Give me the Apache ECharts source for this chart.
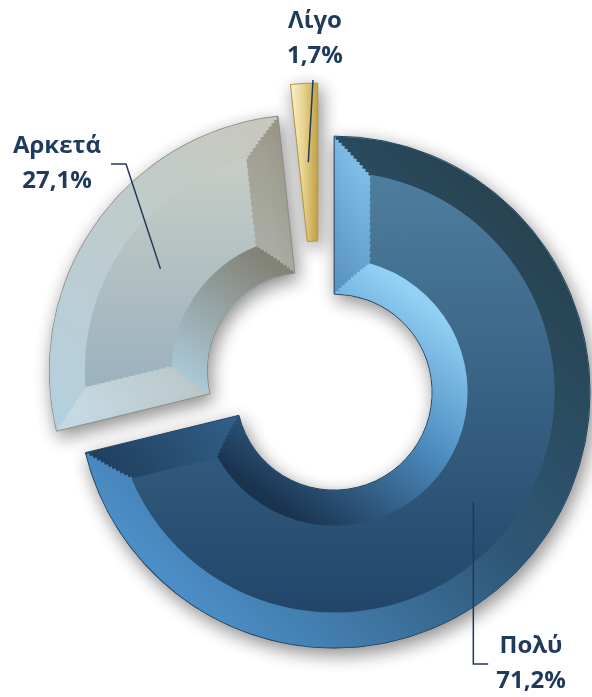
<!DOCTYPE html>
<html>
<head>
<meta charset="utf-8">
<title>Doughnut</title>
<script src="https://cdn.jsdelivr.net/npm/echarts@6/dist/echarts.min.js"></script>
<style>
  html, body { margin: 0; padding: 0; background: #ffffff; }
  #chart { width: 592px; height: 697px; }
</style>
</head>
<body>
<div id="chart"></div>
<script>
// ---- data ----
const categories = ['Πολύ', 'Αρκετά', 'Λίγο'];
const values = [71.2, 27.1, 1.7];

// ---- geometry & style ----
const CX = 320, CY = 381;
const R_IN = 98, R_OUT = 256, BEVEL = 36;
const EXPLODE = [18, 18, 42];          // how far each slice is pulled out (px)
const TEXT = '#1f3a5c';

const total = values.reduce((a, b) => a + b, 0);
const pct = v => (v / total * 100).toFixed(1).replace('.', ',') + '%';

// start/end angle of every slice in ECharts degrees (90 = 12 o'clock, clockwise)
const bounds = (() => {
  let acc = 0;
  return values.map(v => {
    const a = 90 - acc / total * 360;
    acc += v;
    return [a, 90 - acc / total * 360];
  });
})();
function midDir(i) {
  const rad = (bounds[i][0] + bounds[i][1]) / 2 * Math.PI / 180;
  return [Math.cos(rad), -Math.sin(rad)];
}

function lin(x1, y1, x2, y2, stops) {
  return {
    type: 'linear', x: CX + x1, y: CY + y1, x2: CX + x2, y2: CY + y2, global: true,
    colorStops: stops.map(([offset, color]) => ({ offset, color }))
  };
}

const palette = [
  { // Πολύ
    side:  lin(20, -256, -250, 80, [[0, '#86c4ee'], [0.5, '#3f78a8'], [1, '#1e3c5a']]),
    outer: lin(200, -180, -180, 180, [[0, '#27424f'], [0.5, '#2f5877'], [1, '#4c8fc8']]),
    inner: lin(90, -90, -60, 110, [[0, '#92d0f4'], [0.45, '#4d8cc0'], [1, '#1a3450']]),
    face:  lin(0, -220, 0, 220, [[0, '#4e7e9e'], [1, '#21466a']]),
    edge:  '#26445c'
  },
  { // Αρκετά
    side:  lin(-20, -250, -250, 50, [[0, '#9c9888'], [1, '#c8dee8']]),
    outer: lin(-30, -256, -256, 40, [[0, '#c8c8bc'], [1, '#b4d0de']]),
    inner: lin(-20, -100, -100, 20, [[0, '#828276'], [1, '#aac8d6']]),
    face:  lin(0, -220, 0, 30, [[0, '#c9cec6'], [1, '#98b0be']]),
    edge:  '#8c8e86'
  },
  { // Λίγο
    side:  lin(-28, 0, 0, 0, [[0, '#fff8d8'], [0.45, '#efdb98'], [1, '#c7a446']]),
    edge:  '#b5963e'
  }
];

const pieBase = {
  type: 'pie', center: [CX, CY], silent: true, animation: false,
  selectedMode: 'multiple', avoidLabelOverlap: false,
  label: { show: false }, labelLine: { show: false },
  emphasis: { disabled: true }
};
const hidden = { color: 'rgba(0,0,0,0)', borderWidth: 0, shadowBlur: 0 };
const series = [];

// 1. whole slices (one series per explode distance)
const groups = {};
EXPLODE.forEach((d, i) => (groups[d] = groups[d] || []).push(i));
Object.keys(groups).forEach(d => {
  const members = groups[d];
  series.push(Object.assign({}, pieBase, {
    radius: [R_IN, R_OUT], selectedOffset: +d, z: 2,
    data: categories.map((name, i) => ({
      name, value: values[i], selected: true,
      itemStyle: members.includes(i) ? {
        color: palette[i].side, borderColor: palette[i].edge, borderWidth: 1,
        shadowBlur: 18, shadowColor: 'rgba(0,0,0,0.45)', shadowOffsetX: 3, shadowOffsetY: 6
      } : hidden
    }))
  }));
});

// 2. bevel rings (outer rim, inner rim, flat face), mitred towards the slice sides;
//    each band is built from thin concentric rings whose padding follows the mitre
const STEPS = 12, FACE_STEPS = 14;
const rings = [];
for (let k = 0; k < STEPS; k++) {
  const a = R_OUT - BEVEL + k * BEVEL / STEPS, b = a + BEVEL / STEPS, m = (a + b) / 2;
  rings.push({ part: 'outer', r: [a - 0.5, Math.min(b + 0.5, R_OUT - 0.5)], inset: R_OUT - m, m });
}
for (let k = 0; k < STEPS; k++) {
  const a = R_IN + k * BEVEL / STEPS, b = a + BEVEL / STEPS, m = (a + b) / 2;
  rings.push({ part: 'inner', r: [Math.max(a - 0.5, R_IN + 0.5), b + 0.5], inset: m - R_IN, m });
}
const faceSpan = (R_OUT - R_IN - 2 * BEVEL) / FACE_STEPS;
for (let k = 0; k < FACE_STEPS; k++) {
  const a = R_IN + BEVEL + k * faceSpan, b = a + faceSpan, m = (a + b) / 2;
  rings.push({ part: 'face', r: [a - 0.5, b + 0.5], inset: BEVEL, m });
}

values.forEach((v, i) => {
  if (!palette[i].face) return;       // slice too thin for a bevel
  rings.forEach(ring => {
    const pad = 2 * Math.asin(Math.min(1, ring.inset / ring.m)) * 180 / Math.PI;
    series.push(Object.assign({}, pieBase, {
      radius: ring.r, startAngle: bounds[i][0], endAngle: bounds[i][1],
      padAngle: pad, selectedOffset: EXPLODE[i], z: 3,
      data: [{ name: categories[i], value: v, selected: true,
               itemStyle: { color: palette[i][ring.part] } }]
    }));
  });
});

// 3. labels with leader lines reaching into the middle of each slice
const labelPlacement = [
  { x: 531, y: 664, attach: 'left' },    // Πολύ
  { x: 57,  y: 164, attach: 'right' },   // Αρκετά
  { x: 315, y: 39,  attach: 'bottom' }   // Λίγο
];
series.push({
  type: 'pie', center: [CX, CY], radius: [R_IN, R_OUT], silent: true, animation: false,
  avoidLabelOverlap: false, z: 20,
  itemStyle: { color: 'rgba(0,0,0,0)', borderWidth: 0 },
  emphasis: { disabled: true },
  label: {
    show: true, position: 'outside',
    formatter: p => p.name + '\n' + pct(p.value),
    fontFamily: 'Open Sans', fontWeight: 'bold', fontSize: 24, lineHeight: 35,
    color: TEXT, align: 'center'
  },
  labelLine: { show: true, smooth: false, lineStyle: { color: TEXT, width: 1.5 } },
  labelLayout: params => {
    const i = params.dataIndex, p = labelPlacement[i];
    const w = params.labelRect.width, h = params.labelRect.height;
    const [dx, dy] = midDir(i);
    const rr = EXPLODE[i] + (R_IN + R_OUT) / 2;
    const tip = [CX + dx * rr, CY + dy * rr];
    let pts;
    if (p.attach === 'left') {
      const ex = p.x - w / 2 - 8;
      pts = [tip, [tip[0], p.y], [ex, p.y]];
    } else if (p.attach === 'right') {
      const ex = p.x + w / 2 + 10;
      pts = [tip, [ex + 15, p.y], [ex, p.y]];
    } else {
      pts = [tip, [p.x - 2, p.y + h / 2 + 6]];
    }
    return { x: p.x, y: p.y, align: 'center', verticalAlign: 'middle', labelLinePoints: pts };
  },
  data: categories.map((name, i) => ({ name, value: values[i] }))
});

const chart = echarts.init(document.getElementById('chart'), null, { renderer: 'canvas' });
chart.setOption({ backgroundColor: '#ffffff', animation: false, series });
</script>
</body>
</html>
